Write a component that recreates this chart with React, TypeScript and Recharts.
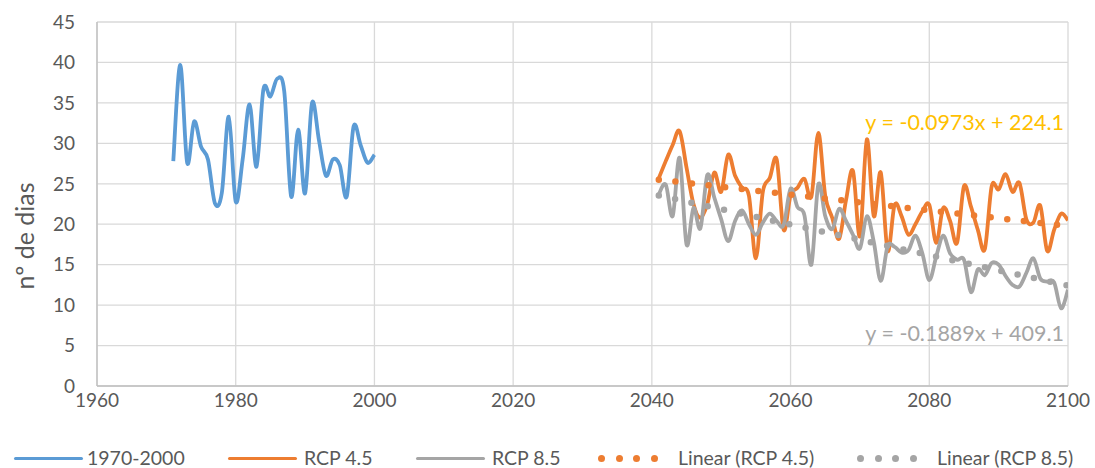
import React from 'react';
import { LineChart, Line, XAxis, YAxis, CartesianGrid, Legend, ReferenceDot } from 'recharts';

// ---------- data ----------
const histYears = [1971, 1972, 1973, 1974, 1975, 1976, 1977, 1978, 1979, 1980, 1981, 1982, 1983, 1984, 1985, 1986, 1987, 1988, 1989, 1990, 1991, 1992, 1993, 1994, 1995, 1996, 1997, 1998, 1999, 2000];
const histValues = [27.8, 39.7, 27.6, 32.7, 29.6, 28.0, 22.6, 23.9, 33.3, 22.8, 28.0, 34.8, 27.1, 36.7, 35.8, 38.0, 36.4, 23.4, 31.7, 23.8, 35.0, 30.4, 26.0, 28.0, 27.3, 23.4, 32.1, 29.8, 27.6, 28.6];

const futYears = [2041, 2042, 2043, 2044, 2045, 2046, 2047, 2048, 2049, 2050,
  2051, 2052, 2053, 2054, 2055, 2056, 2057, 2058, 2059, 2060,
  2061, 2062, 2063, 2064, 2065, 2066, 2067, 2068, 2069, 2070,
  2071, 2072, 2073, 2074, 2075, 2076, 2077, 2078, 2079, 2080,
  2081, 2082, 2083, 2084, 2085, 2086, 2087, 2088, 2089, 2090,
  2091, 2092, 2093, 2094, 2095, 2096, 2097, 2098, 2099, 2100];
const rcp45Values = [25.7, 27.8, 29.8, 31.5, 27.0, 22.5, 20.8, 22.5, 26.4, 24.0,
  28.6, 26.0, 24.5, 23.5, 15.8, 24.0, 25.7, 28.0, 19.3, 23.6,
  24.5, 25.6, 23.4, 31.3, 23.5, 20.8, 18.2, 23.0, 26.6, 18.5,
  30.5, 21.0, 26.4, 16.7, 22.4, 21.0, 18.7, 20.0, 21.6, 22.4,
  17.7, 22.0, 20.4, 17.7, 24.7, 22.2, 19.3, 16.9, 24.7, 24.3,
  26.2, 24.0, 25.1, 20.6, 20.2, 22.3, 16.7, 19.3, 21.3, 20.5];
const rcp85Values = [23.7, 24.9, 21.0, 28.2, 17.5, 22.0, 19.5, 26.1, 23.3, 20.6,
  17.9, 20.4, 21.7, 20.0, 18.7, 20.2, 21.3, 20.4, 19.9, 24.4,
  22.1, 21.1, 15.0, 24.9, 21.0, 19.4, 21.9, 20.4, 18.7, 17.0,
  21.0, 17.8, 13.0, 17.3, 17.2, 16.5, 16.8, 18.6, 16.4, 13.1,
  16.0, 18.6, 16.4, 15.6, 15.6, 11.6, 14.4, 13.7, 15.2, 15.0,
  13.6, 12.5, 12.3, 14.0, 15.8, 13.3, 12.9, 12.8, 9.6, 11.9];

// linear trend end points (from the displayed equations)
const trendYears = [2041, 2100];
const trend45Values = [25.51, 19.77];
const trend85Values = [23.55, 12.41];

const xTicks = [1960, 1980, 2000, 2020, 2040, 2060, 2080, 2100];
const yTicks = [0, 5, 10, 15, 20, 25, 30, 35, 40, 45];

const eq45 = 'y = -0.0973x + 224.1';
const eq85 = 'y = -0.1889x + 409.1';
const yTitle = 'nº de dias';

const legendLabels = ['1970-2000', 'RCP 4.5', 'RCP 8.5', 'Linear (RCP 4.5)', 'Linear (RCP 8.5)'];

// ---------- build tables ----------
const zip = (xs: number[], vs: number[]) => xs.map((year, i) => ({ year, value: vs[i] }));
const histData = zip(histYears, histValues);
const rcp45Data = zip(futYears, rcp45Values);
const rcp85Data = zip(futYears, rcp85Values);
const trend45Data = zip(trendYears, trend45Values);
const trend85Data = zip(trendYears, trend85Values);

const BLUE = '#5B9BD5';
const ORANGE = '#ED7D31';
const GRAY = '#A5A5A5';
const GOLD = '#FFC000';
const TEXT = '#595959';
const FONT = 'Lato, "Open Sans", sans-serif';

// Excel-like smoothed curve (Catmull-Rom through every point)
const smoothCurve: any = (context: any) => {
  let pts: number[][] = [];
  return {
    areaStart() {},
    areaEnd() {},
    lineStart() { pts = []; },
    point(x: number, y: number) { pts.push([+x, +y]); },
    lineEnd() {
      if (!pts.length) return;
      context.moveTo(pts[0][0], pts[0][1]);
      for (let i = 0; i < pts.length - 1; i++) {
        const p0 = pts[i - 1] || pts[i];
        const p1 = pts[i];
        const p2 = pts[i + 1];
        const p3 = pts[i + 2] || p2;
        const c1x = p1[0] + (p2[0] - p0[0]) / 6;
        const c1y = p1[1] + (p2[1] - p0[1]) / 6;
        const c2x = p2[0] - (p3[0] - p1[0]) / 6;
        const c2y = p2[1] - (p3[1] - p1[1]) / 6;
        context.bezierCurveTo(c1x, c1y, c2x, c2y, p2[0], p2[1]);
      }
    },
  };
};

const legendLayout = [
  { kind: 'line', color: BLUE, sx: 14, sw: 69, tx: 87 },
  { kind: 'line', color: ORANGE, sx: 228, sw: 69, tx: 304 },
  { kind: 'line', color: GRAY, sx: 416, sw: 69, tx: 492 },
  { kind: 'dots', color: ORANGE, sx: 598, sw: 60, tx: 678 },
  { kind: 'dots', color: GRAY, sx: 857, sw: 60, tx: 937 },
];

const renderLegend = () => (
  <div style={{ position: 'relative', width: 1095, height: 52, fontFamily: FONT }}>
    {legendLayout.map((it, i) => (
      <React.Fragment key={i}>
        {it.kind === 'line' ? (
          <div style={{ position: 'absolute', left: it.sx, top: 40.5, width: it.sw, height: 3.5, background: it.color, borderRadius: 2 }} />
        ) : (
          [0, 1, 2, 3].map((k) => (
            <div key={k} style={{ position: 'absolute', left: it.sx + k * 17.6, top: 39, width: 7, height: 7, borderRadius: '50%', background: it.color }} />
          ))
        )}
        <span style={{ position: 'absolute', left: it.tx, top: 30, fontSize: 19.5, lineHeight: '24px', color: TEXT, whiteSpace: 'nowrap' }}>
          {legendLabels[i]}
        </span>
      </React.Fragment>
    ))}
  </div>
);

const YTitle = () => (
  <text x={24} y={236} transform="rotate(-90 24 236)" textAnchor="middle" dominantBaseline="central"
    fill={TEXT} fontSize={25} fontFamily={FONT}>{yTitle}</text>
);

export default function App() {
  return (
    <div style={{ position: 'absolute', left: 0, top: 0, width: 1095, height: 468, background: '#fff' }}>
      <LineChart width={1095} height={468} margin={{ top: 22, right: 27, left: 0, bottom: 0 }}>
        <CartesianGrid stroke="#d9d9d9" strokeWidth={1.3} />
        <XAxis type="number" dataKey="year" domain={[1960, 2100]} ticks={xTicks} allowDataOverflow
          height={30} tickSize={0} tickMargin={8} axisLine={{ stroke: '#bfbfbf', strokeWidth: 1.3 }} tickLine={false}
          tick={{ fill: TEXT, fontSize: 19, fontFamily: FONT }} />
        <YAxis type="number" domain={[0, 45]} ticks={yTicks} width={97} allowDataOverflow
          tickSize={0} tickMargin={22} axisLine={{ stroke: '#bfbfbf', strokeWidth: 1.3 }} tickLine={false}
          tick={{ fill: TEXT, fontSize: 19, fontFamily: FONT }}
          label={{ content: () => <YTitle /> }} />
        <Legend verticalAlign="bottom" height={52} content={renderLegend} />
        <Line data={histData} dataKey="value" type={smoothCurve} stroke={BLUE} strokeWidth={3.8}
          dot={false} activeDot={false} isAnimationActive={false} legendType="none" />
        <Line data={rcp45Data} dataKey="value" type={smoothCurve} stroke={ORANGE} strokeWidth={3.8}
          dot={false} activeDot={false} isAnimationActive={false} legendType="none" />
        <Line data={rcp85Data} dataKey="value" type={smoothCurve} stroke={GRAY} strokeWidth={3.8}
          dot={false} activeDot={false} isAnimationActive={false} legendType="none" />
        <Line data={trend45Data} dataKey="value" type="linear" stroke={ORANGE} strokeWidth={6.5}
          strokeDasharray="0 16.7" strokeLinecap="round" dot={false} activeDot={false} isAnimationActive={false} legendType="none" />
        <Line data={trend85Data} dataKey="value" type="linear" stroke={GRAY} strokeWidth={6.5}
          strokeDasharray="0 16.7" strokeLinecap="round" dot={false} activeDot={false} isAnimationActive={false} legendType="none" />
        <ReferenceDot x={2085.1} y={32.6} r={0} ifOverflow="visible"
          label={{ value: eq45, position: 'center', fill: GOLD, fontSize: 21.5, fontFamily: FONT }} />
        <ReferenceDot x={2085.1} y={6.55} r={0} ifOverflow="visible"
          label={{ value: eq85, position: 'center', fill: GRAY, fontSize: 21.5, fontFamily: FONT }} />
      </LineChart>
    </div>
  );
}
